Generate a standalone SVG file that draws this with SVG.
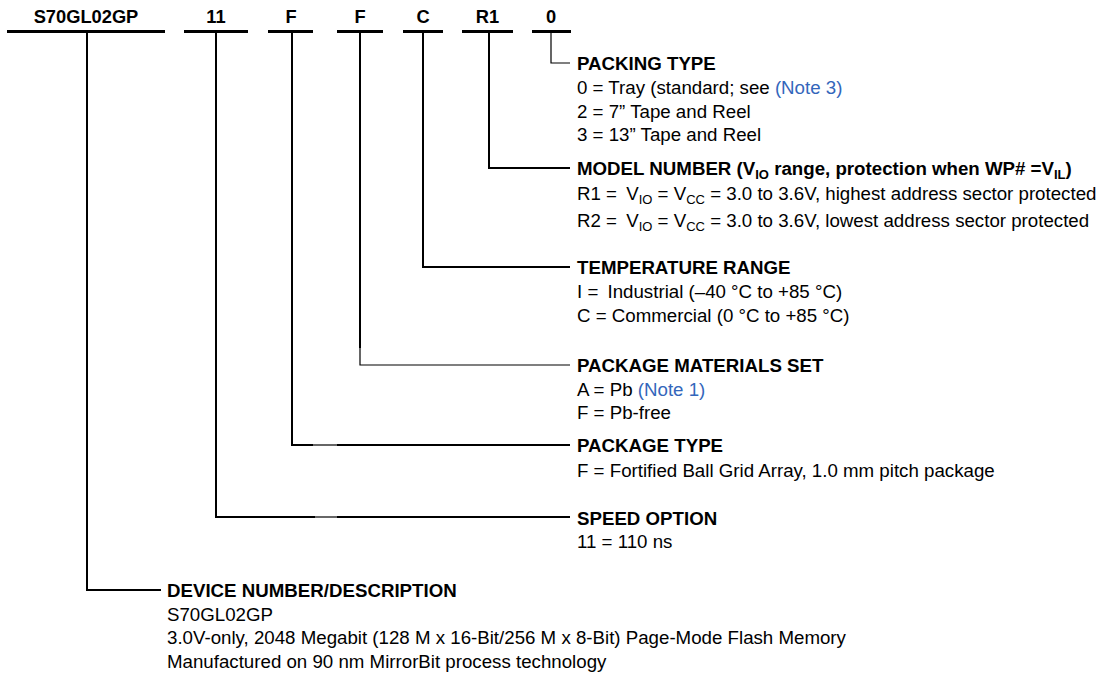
<svg xmlns="http://www.w3.org/2000/svg" width="1100" height="676" viewBox="0 0 1100 676">
<style>
.t{font-family:"Liberation Sans",Arial,sans-serif;font-size:18.7px;fill:#000}
.top{font-size:18.3px}
.b{font-weight:bold}
.m{text-anchor:middle}
.n{fill:#3366bb}
.s{font-size:13px}
.bar{stroke:#000;stroke-width:3;fill:none}
.ln{stroke:#000;stroke-width:2;fill:none}
.thin{stroke:#000;stroke-width:1.2;fill:none}
</style>
<rect width="1100" height="676" fill="#fff"/>
<g id="code">
<g id="seg-device"><text class="t top b m" x="86" y="22.5">S70GL02GP</text><line class="bar" x1="7" y1="31.5" x2="165" y2="31.5"/></g>
<g id="seg-speed"><text class="t top b m" x="216" y="22.5">11</text><line class="bar" x1="184" y1="31.5" x2="248" y2="31.5"/></g>
<g id="seg-pkgtype"><text class="t top b m" x="291" y="22.5">F</text><line class="bar" x1="268" y1="31.5" x2="313" y2="31.5"/></g>
<g id="seg-pkgmat"><text class="t top b m" x="360" y="22.5">F</text><line class="bar" x1="337" y1="31.5" x2="383" y2="31.5"/></g>
<g id="seg-temp"><text class="t top b m" x="423" y="22.5">C</text><line class="bar" x1="403" y1="31.5" x2="443" y2="31.5"/></g>
<g id="seg-model"><text class="t top b m" x="487.5" y="22.5">R1</text><line class="bar" x1="462" y1="31.5" x2="513" y2="31.5"/></g>
<g id="seg-packing"><text class="t top b m" x="551" y="22.5">0</text><line class="bar" x1="532" y1="31.5" x2="571" y2="31.5"/></g>
</g>
<g id="connectors">
<path class="ln" d="M87,33 V590 H161"/>
<path class="ln" d="M216,33 V517 H315 M337,517 H570"/>
<path class="thin" d="M315,517 H337"/>
<path class="ln" d="M292,33 V445 H313 M337,445 H570"/>
<path class="thin" d="M313,445 H337"/>
<path class="ln" d="M360,33 V348"/>
<path class="thin" d="M360,348 V365 H570"/>
<path class="ln" d="M423,33 V267 H570"/>
<path class="ln" d="M489,33 V168 H570"/>
<path class="thin" d="M551,33 V63 H570"/>
</g>
<g id="packing-type">
<text class="t b" x="577" y="70">PACKING TYPE</text>
<text class="t" x="577" y="94">0 = Tray (standard; see <tspan class="n">(Note 3)</tspan></text>
<text class="t" x="577" y="117.5">2 = 7” Tape and Reel</text>
<text class="t" x="577" y="141">3 = 13” Tape and Reel</text>
</g>
<g id="model-number">
<text class="t b" x="577" y="174.5">MODEL NUMBER (V<tspan class="s" dy="4">IO</tspan><tspan dy="-4"> range, protection when WP# =V</tspan><tspan class="s" dy="4">IL</tspan><tspan dy="-4">)</tspan></text>
<text class="t" x="577" y="200">R1 = <tspan dx="4">V</tspan><tspan class="s" dy="4">IO</tspan><tspan dy="-4"> = V</tspan><tspan class="s" dy="4">CC</tspan><tspan dy="-4"> = 3.0 to 3.6V, highest address sector protected</tspan></text>
<text class="t" x="577" y="226.5">R2 = <tspan dx="4">V</tspan><tspan class="s" dy="4">IO</tspan><tspan dy="-4"> = V</tspan><tspan class="s" dy="4">CC</tspan><tspan dy="-4"> = 3.0 to 3.6V, lowest address sector protected</tspan></text>
</g>
<g id="temperature-range">
<text class="t b" x="577" y="273.5">TEMPERATURE RANGE</text>
<text class="t" x="577" y="297.5">I = <tspan dx="4">Industrial (–40 °C to +85 °C)</tspan></text>
<text class="t" x="577" y="321.5">C = Commercial (0 °C to +85 °C)</text>
</g>
<g id="package-materials">
<text class="t b" x="577" y="371.5">PACKAGE MATERIALS SET</text>
<text class="t" x="577" y="395.5">A = Pb <tspan class="n">(Note 1)</tspan></text>
<text class="t" x="577" y="418.5">F = Pb-free</text>
</g>
<g id="package-type">
<text class="t b" x="577" y="451.5">PACKAGE TYPE</text>
<text class="t" x="577" y="476.5">F = Fortified Ball Grid Array, 1.0 mm pitch package</text>
</g>
<g id="speed-option">
<text class="t b" x="577" y="524.5">SPEED OPTION</text>
<text class="t" x="577" y="547.5">11 = 110 ns</text>
</g>
<g id="device-number">
<text class="t b" x="167" y="596.5">DEVICE NUMBER/DESCRIPTION</text>
<text class="t" x="167" y="620.5">S70GL02GP</text>
<text class="t" x="167" y="643.5">3.0V-only, 2048 Megabit (128 M x 16-Bit/256 M x 8-Bit) Page-Mode Flash Memory</text>
<text class="t" x="167" y="667.5">Manufactured on 90 nm MirrorBit process technology</text>
</g>
</svg>
